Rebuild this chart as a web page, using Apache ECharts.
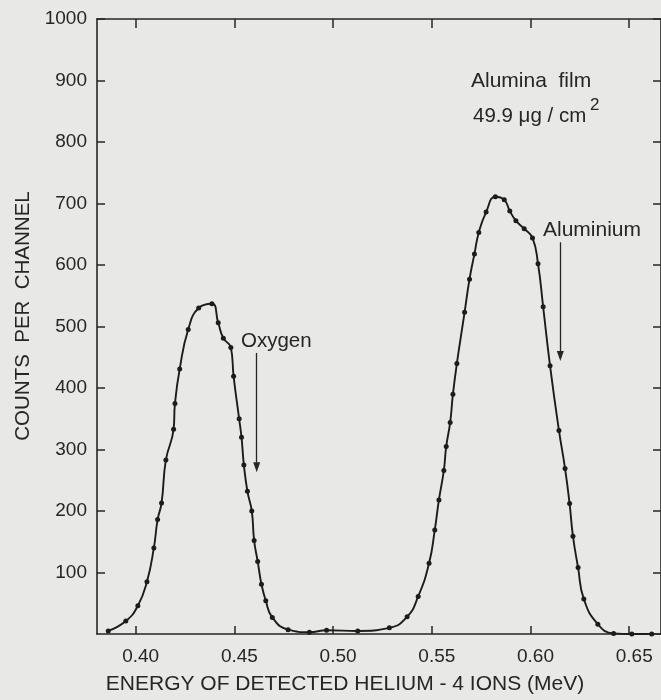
<!DOCTYPE html>
<html>
<head>
<meta charset="utf-8">
<script src="https://cdn.jsdelivr.net/npm/echarts@6/dist/echarts.min.js"></script>
<style>
  html, body { margin: 0; padding: 0; background: #e8e8e7; }
  #chart { width: 661px; height: 700px; }
</style>
</head>
<body>
<div id="chart"></div>
<script>
// Alpha-particle energy spectrum of an alumina film: oxygen and aluminium peaks
const energyMeV = [
  0.3861, 0.3950, 0.4011, 0.4057, 0.4092, 0.4111, 0.4131, 0.4153, 0.4192, 0.4199,
  0.4223, 0.4266, 0.4319, 0.4386, 0.4418, 0.4444, 0.4482, 0.4496, 0.4524, 0.4536,
  0.4548, 0.4566, 0.4588, 0.4600, 0.4618, 0.4637, 0.4659, 0.4692, 0.4772,
  0.4880, 0.4967, 0.5125,
  0.5285, 0.5375, 0.5431, 0.5486, 0.5515, 0.5536, 0.5561, 0.5573, 0.5593, 0.5607,
  0.5627, 0.5666, 0.5691, 0.5716, 0.5738, 0.5775, 0.5822, 0.5867, 0.5895, 0.5926,
  0.5968, 0.6010, 0.6038, 0.6064, 0.6099, 0.6144, 0.6175, 0.6198, 0.6215, 0.6241,
  0.6270, 0.6341, 0.6421, 0.6513, 0.6614
];
const countsPerChannel = [
  5, 21, 46, 85, 140, 186, 213, 283, 333, 375,
  431, 495, 530, 537, 506, 481, 466, 419, 350, 320,
  275, 232, 200, 152, 118, 81, 54, 27, 7,
  3, 6, 5,
  10, 28, 61, 115, 169, 218, 266, 305, 344, 390,
  440, 523, 577, 618, 653, 686, 711, 706, 688, 672,
  659, 644, 602, 532, 436, 331, 269, 212, 159, 108,
  57, 16, 1, 0, 0
];

const energyTicks = [0.40, 0.45, 0.50, 0.55, 0.60, 0.65];
const countMin = 0;
const countMax = 1000;
const countStep = 100;

// peak markers: [energy, arrow start count, arrow tip count]
const oxygenArrow = [0.4613, 457, 271];
const aluminiumArrow = [0.6151, 637, 452];

const FONT = '"Liberation Sans", Arial, sans-serif';
const INK = '#262626';

const chart = echarts.init(document.getElementById('chart'), null, { renderer: 'canvas' });

const spectrum = energyMeV.map((e, i) => [e, countsPerChannel[i]]);

function ticks(extra) {
  return Object.assign({
    show: true, inside: true, length: 8,
    lineStyle: { color: INK, width: 1.5 }
  }, extra || {});
}
const frameLine = { show: true, onZero: false, lineStyle: { color: INK, width: 1.6 } };

function note(x, y, text, size) {
  return {
    type: 'text', x: x, y: y,
    style: { text: text, font: size + 'px ' + FONT, fill: INK, verticalAlign: 'middle' }
  };
}

chart.setOption({
  animation: false,
  backgroundColor: '#e8e8e7',
  grid: { left: 97, top: 19, width: 567, height: 616 },
  xAxis: [
    {
      type: 'value',
      position: 'bottom',
      min: 0.3804,
      max: 0.6661,
      axisLine: frameLine,
      axisTick: ticks({ customValues: energyTicks }),
      axisLabel: {
        customValues: energyTicks,
        formatter: v => v.toFixed(2),
        color: INK, fontFamily: FONT, fontSize: 19,
        margin: 13, padding: [0, 0, 0, 10]
      },
      splitLine: { show: false },
      name: 'ENERGY OF DETECTED HELIUM - 4 IONS (MeV)',
      nameLocation: 'middle',
      nameGap: 40,
      nameTextStyle: { color: INK, fontFamily: FONT, fontSize: 21, padding: [0, 68, 0, 0] }
    },
    {
      type: 'value',
      position: 'top',
      min: 0.3804,
      max: 0.6661,
      axisLine: frameLine,
      axisTick: ticks({ customValues: energyTicks, length: 9 }),
      axisLabel: { show: false },
      splitLine: { show: false }
    }
  ],
  yAxis: [
    {
      type: 'value',
      position: 'left',
      min: countMin,
      max: countMax,
      interval: countStep,
      axisLine: frameLine,
      axisTick: ticks(),
      axisLabel: {
        showMinLabel: false,
        formatter: v => String(v),
        color: INK, fontFamily: FONT, fontSize: 19, margin: 10
      },
      splitLine: { show: false },
      name: 'COUNTS  PER  CHANNEL',
      nameLocation: 'middle',
      nameGap: 58,
      nameTextStyle: { color: INK, fontFamily: FONT, fontSize: 20.5, padding: [0, 0, 0, 21] }
    },
    {
      type: 'value',
      position: 'right',
      min: countMin,
      max: countMax,
      interval: countStep,
      axisLine: frameLine,
      axisTick: ticks(),
      axisLabel: { show: false },
      splitLine: { show: false }
    }
  ],
  series: [
    {
      type: 'line',
      data: spectrum,
      smooth: 0.5,
      symbol: 'circle',
      symbolSize: 5,
      showSymbol: true,
      itemStyle: { color: '#1c1c1c' },
      lineStyle: { color: '#1c1c1c', width: 1.9 },
      markLine: {
        silent: true,
        symbol: ['none', 'triangle'],
        symbolSize: [7, 10],
        label: { show: false },
        lineStyle: { color: INK, width: 1.3, type: 'solid' },
        data: [
          [{ coord: [oxygenArrow[0], oxygenArrow[1]] }, { coord: [oxygenArrow[0], oxygenArrow[2]] }],
          [{ coord: [aluminiumArrow[0], aluminiumArrow[1]] }, { coord: [aluminiumArrow[0], aluminiumArrow[2]] }]
        ]
      }
    }
  ],
  graphic: [
    note(471, 81.5, 'Alumina  film', 21),
    note(473, 116, '49.9 μg / cm', 20.5),
    note(590, 105, '2', 17),
    note(241, 341, 'Oxygen', 20.5),
    note(543, 230, 'Aluminium', 21)
  ]
});
</script>
</body>
</html>
